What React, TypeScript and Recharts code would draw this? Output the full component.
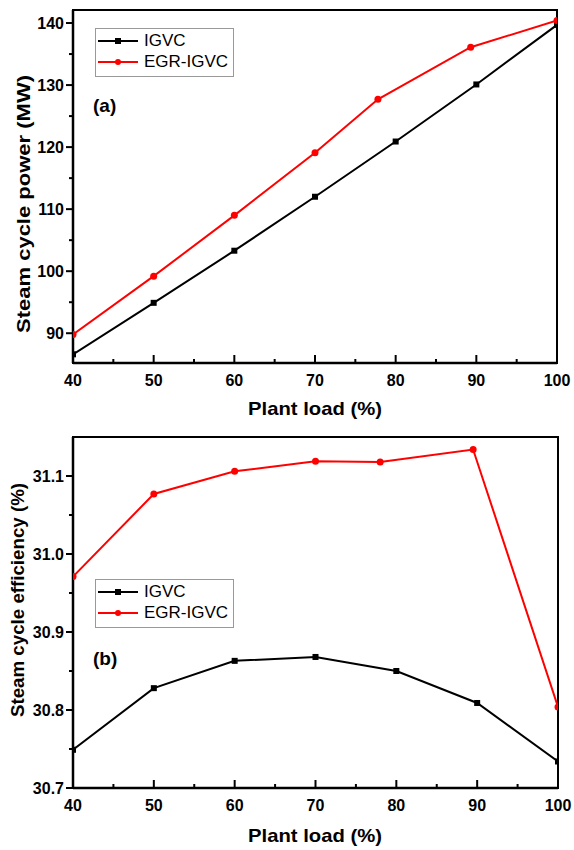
import React from 'react';
import { LineChart, Line, XAxis, YAxis, Legend, ReferenceArea } from 'recharts';

// plant load (%) for each series; EGR-IGVC is sampled at slightly different loads
const igvcLoad = [40, 50, 60, 70, 80, 90, 100];
const egrLoad = [40, 50, 60, 70, 77.8, 89.3, 100];

// (a) steam cycle power, MW
const igvcPower = [86.6, 94.9, 103.3, 112.0, 120.9, 130.1, 139.7];
const egrPower = [89.8, 99.2, 109.0, 119.1, 127.7, 136.1, 140.4];

// (b) steam cycle efficiency, %
const egrEffLoad = [40, 50, 60, 70, 78, 89.5, 100];
const igvcEff = [30.749, 30.828, 30.863, 30.868, 30.85, 30.809, 30.734];
const egrEff = [30.971, 31.077, 31.106, 31.119, 31.118, 31.134, 30.804];

const xTicks = [40, 45, 50, 55, 60, 65, 70, 75, 80, 85, 90, 95, 100];
const powerTicks = [90, 95, 100, 105, 110, 115, 120, 125, 130, 135, 140];
const effTicks = [30.7, 30.75, 30.8, 30.85, 30.9, 30.95, 31.0, 31.05, 31.1];

const RED = '#ff0000';
const FONT = '"Liberation Sans", Arial, sans-serif';

const zip = (xs: number[], ys: number[]) => xs.map((x, i) => ({ x, y: ys[i] }));

function XTick(props: any) {
  const { x, y, payload } = props;
  const v = payload.value as number;
  const major = v % 10 === 0;
  return (
    <g>
      <line x1={x} x2={x} y1={y} y2={y - (major ? 8 : 4)} stroke="#000" strokeWidth={2} />
      {major && (
        <text x={x} y={y + 23} textAnchor="middle" fontSize={16} fontWeight="bold" fontFamily={FONT} fill="#000">
          {v}
        </text>
      )}
    </g>
  );
}

function makeYTick(isMajor: (v: number) => boolean, fmt: (v: number) => string) {
  return function YTick(props: any) {
    const { x, y, payload } = props;
    const v = payload.value as number;
    const major = isMajor(v);
    return (
      <g>
        <line x1={x} x2={x - (major ? 7 : 4)} y1={y} y2={y} stroke="#000" strokeWidth={2} />
        {major && (
          <text x={x - 9} y={y} dy="0.35em" textAnchor="end" fontSize={16} fontWeight="bold" fontFamily={FONT} fill="#000">
            {fmt(v)}
          </text>
        )}
      </g>
    );
  };
}

const PowerTick = makeYTick((v) => v % 10 === 0, (v) => String(v));
const EffTick = makeYTick((v) => Math.round(v * 100) % 10 === 0, (v) => v.toFixed(1));

const squareDot = (p: any) => (
  <rect key={`sq-${p.index}`} x={p.cx - 3} y={p.cy - 3} width={6} height={6} fill="#000" />
);

function LegendBox() {
  const row = (label: string, color: string, square: boolean) => (
    <div style={{ display: 'flex', alignItems: 'center', height: 21 }}>
      <svg width={44} height={10} style={{ marginLeft: 2 }}>
        <line x1={0} x2={40} y1={5} y2={5} stroke={color} strokeWidth={2} />
        {square ? <rect x={17} y={2} width={6} height={6} fill={color} /> : <circle cx={20} cy={5} r={3} fill={color} />}
      </svg>
      <span style={{ fontSize: 17, fontFamily: FONT, color: '#000', marginLeft: 2 }}>{label}</span>
    </div>
  );
  return (
    <div style={{ border: '1px solid #999', width: 137, height: 45, padding: '1px 0', boxSizing: 'content-box' }}>
      {row('IGVC', '#000', true)}
      {row('EGR-IGVC', RED, false)}
    </div>
  );
}

// rotated axis title, stretched to the length seen in the figure
function yLabel(text: string, cx: number, cy: number, len: number, size: number) {
  return () => (
    <text
      x={cx}
      y={cy}
      transform={`rotate(-90 ${cx} ${cy})`}
      textAnchor="middle"
      dy="0.35em"
      fontSize={size}
      fontWeight="bold"
      fontFamily={FONT}
      fill="#000"
      textLength={len}
      lengthAdjust="spacingAndGlyphs"
    >
      {text}
    </text>
  );
}

function xLabel(baseline: number) {
  return () => (
    <text
      x={315}
      y={baseline}
      textAnchor="middle"
      fontSize={19}
      fontWeight="bold"
      fontFamily={FONT}
      fill="#000"
      textLength={134}
      lengthAdjust="spacingAndGlyphs"
    >
      Plant load (%)
    </text>
  );
}

function Panel(props: {
  top: number;
  domain: [number, number];
  yTicks: number[];
  tick: any;
  igvc: { x: number; y: number }[];
  egr: { x: number; y: number }[];
  yTitle: string;
  yTitleX: number;
  yTitleY: number;
  yTitleLen: number;
  yTitleSize: number;
  tag: string;
  tagTop: number;
  legendTop: number;
  xLabelY: number;
}) {
  const { top, domain } = props;
  return (
    <div style={{ position: 'absolute', left: 0, top }}>
      <LineChart width={574} height={425} margin={{ top: top === 0 ? 10 : 12, right: top === 0 ? 17 : 16, bottom: 0, left: 0 }}>
        <XAxis
          dataKey="x"
          type="number"
          domain={[40, 100]}
          ticks={xTicks}
          interval={0}
          height={62}
          tickSize={0}
          tickMargin={0}
          tick={<XTick />}
          axisLine={{ stroke: '#000', strokeWidth: 2.5 }}
          allowDataOverflow
          label={{ content: xLabel(props.xLabelY) }}
        />
        <YAxis
          type="number"
          domain={domain}
          ticks={props.yTicks}
          interval={0}
          width={73}
          tickSize={0}
          tickMargin={0}
          tick={<props.tick />}
          axisLine={{ stroke: '#000', strokeWidth: 2.5 }}
          allowDataOverflow
          label={{ content: yLabel(props.yTitle, props.yTitleX, props.yTitleY, props.yTitleLen, props.yTitleSize) }}
        />
        <ReferenceArea x1={40} x2={100} y1={domain[0]} y2={domain[1]} fill="none" stroke="#000" strokeWidth={2} ifOverflow="visible" />
        <Legend
          layout="horizontal"
          verticalAlign="middle"
          align="center"
          content={() => <LegendBox />}
          wrapperStyle={{ position: 'absolute', left: 95, top: props.legendTop, width: 139, height: 47 }}
        />
        <Line
          data={props.igvc}
          dataKey="y"
          name="IGVC"
          stroke="#000"
          strokeWidth={2}
          dot={squareDot}
          activeDot={false}
          isAnimationActive={false}
        />
        <Line
          data={props.egr}
          dataKey="y"
          name="EGR-IGVC"
          stroke={RED}
          strokeWidth={2}
          dot={{ r: 3.5, fill: RED, stroke: RED, strokeWidth: 0 }}
          activeDot={false}
          isAnimationActive={false}
        />
      </LineChart>
      <div
        style={{
          position: 'absolute',
          left: 93,
          top: props.tagTop,
          fontSize: 19,
          fontWeight: 'bold',
          fontFamily: FONT,
          color: '#000',
          lineHeight: 1,
        }}
      >
        {props.tag}
      </div>
    </div>
  );
}

export default function App() {
  return (
    <div style={{ position: 'absolute', left: 0, top: 0, width: 574, height: 850, background: '#fff' }}>
      <Panel
        top={0}
        domain={[85.2, 142.1]}
        yTicks={powerTicks}
        tick={PowerTick}
        igvc={zip(igvcLoad, igvcPower)}
        egr={zip(egrLoad, egrPower)}
        yTitle="Steam cycle power (MW)"
        yTitleX={23}
        yTitleY={204}
        yTitleLen={258}
        yTitleSize={19}
        tag="(a)"
        tagTop={96}
        legendTop={28}
        xLabelY={415}
      />
      <Panel
        top={425}
        domain={[30.7, 31.15]}
        yTicks={effTicks}
        tick={EffTick}
        igvc={zip(igvcLoad, igvcEff)}
        egr={zip(egrEffLoad, egrEff)}
        yTitle="Steam cycle efficiency (%)"
        yTitleX={18}
        yTitleY={175}
        yTitleLen={234}
        yTitleSize={18}
        tag="(b)"
        tagTop={224}
        legendTop={154}
        xLabelY={417}
      />
    </div>
  );
}
